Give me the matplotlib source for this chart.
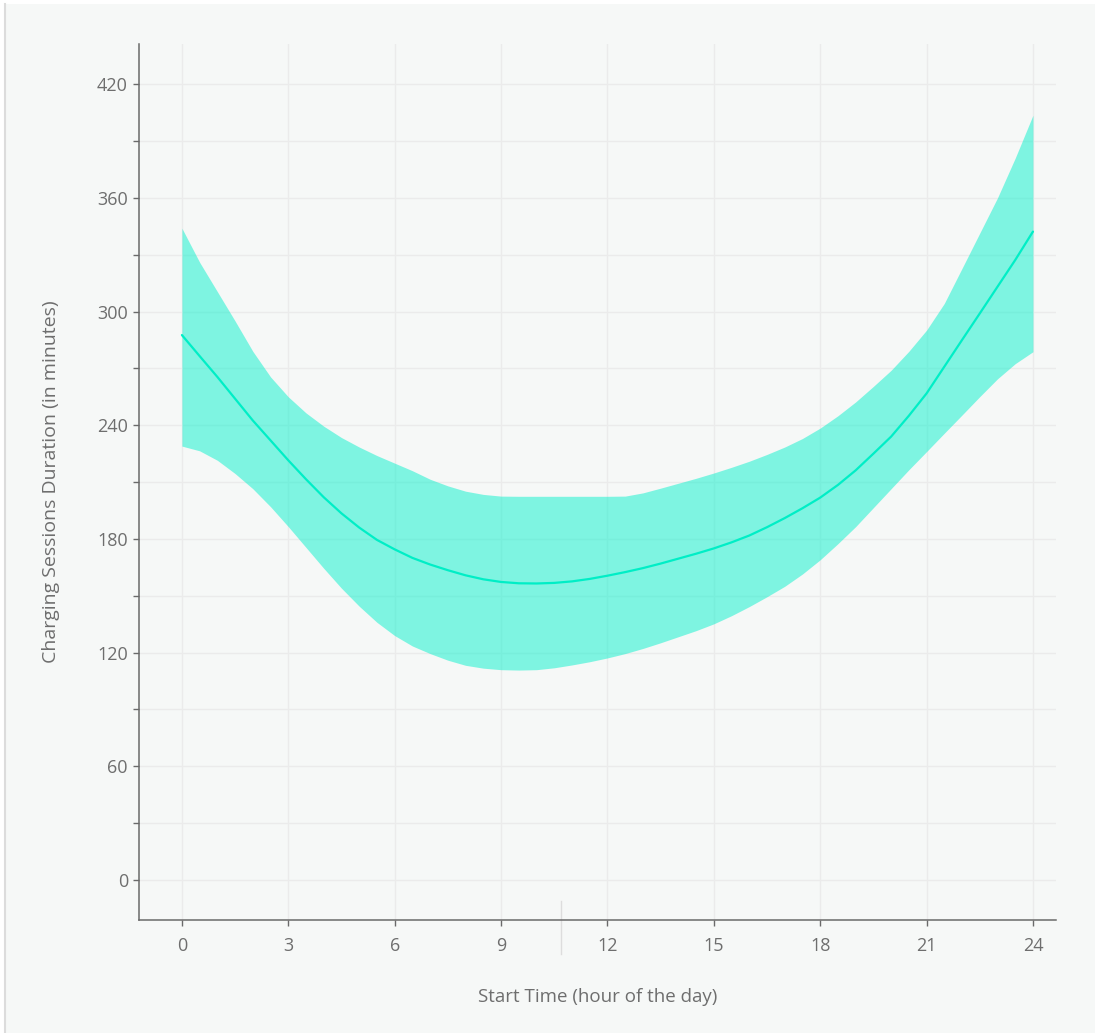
import matplotlib
matplotlib.use("Agg")
import matplotlib.pyplot as plt
from matplotlib.patches import Rectangle
from matplotlib.lines import Line2D
import numpy as np

hours = [0, 0.5, 1, 1.5, 2, 2.5, 3, 3.5, 4, 4.5, 5, 5.5, 6, 6.5, 7, 7.5, 8,
         8.5, 9, 9.5, 10, 10.5, 11, 11.5, 12, 12.5, 13, 13.5, 14, 14.5, 15, 15.5, 16,
         16.5, 17, 17.5, 18, 18.5, 19, 19.5, 20, 20.5, 21, 21.5, 22, 22.5, 23, 23.5, 24]
mean_dur = [287.6, 276.5, 265.5, 254, 242.5, 232, 221.5, 211.5, 202, 193.5, 186, 179.5,
            174.5, 170, 166.5, 163.5, 160.8, 158.7, 157.3, 156.6, 156.5, 156.8, 157.6,
            158.9, 160.6, 162.5, 164.6, 167, 169.6, 172.2, 175, 178.2, 181.8, 186.2, 191,
            196.2, 201.8, 208.5, 216.2, 225, 234, 245, 256.8, 270.9, 285, 299, 313.1,
            327.2, 342.2]
upper_dur = [344, 326, 310.5, 295, 279, 265.5, 255, 246.5, 239.5, 233.5, 228.5, 224,
             220, 216, 211.5, 208, 205.2, 203.5, 202.6, 202.5, 202.5, 202.5, 202.5,
             202.5, 202.5, 202.6, 204.3, 206.8, 209.4, 212, 214.8, 217.8, 221, 224.6,
             228.5, 233, 238.5, 245, 252.3, 260.5, 269, 279, 290.2, 304.3, 322.8, 341.4,
             360, 381, 403.6]
lower_dur = [229, 226.5, 221.5, 214.5, 206.5, 197, 186.5, 175.5, 164.5, 154, 144.5, 136,
             129, 123.5, 119.5, 116, 113.3, 111.8, 111, 110.8, 111, 112, 113.5, 115.2,
             117.2, 119.5, 122.2, 125.2, 128.4, 131.6, 135.2, 139.5, 144.3, 149.5, 155,
             161.5, 169, 177.5, 186.5, 196.5, 206.5, 216.5, 226.1, 235.8, 245.4, 255.1,
             264.5, 272.5, 278.8]
x_ticks = [0, 3, 6, 9, 12, 15, 18, 21, 24]
y_ticks = [0, 60, 120, 180, 240, 300, 360, 420]

plt.rcParams['font.family'] = ['Open Sans', 'DejaVu Sans']

W, H = 1099, 1033
fig = plt.figure(figsize=(W / 100, H / 100), dpi=100, facecolor='white')
bg = '#f6f8f7'
fig.patches.append(Rectangle((5 / W, 0), (1095 - 5) / W, (H - 4) / H,
                             transform=fig.transFigure, facecolor=bg,
                             edgecolor='none', zorder=-10))
fig.lines.append(Line2D([4.5 / W, 4.5 / W], [0, (H - 4) / H],
                        transform=fig.transFigure, color='#dcdcdc', lw=1.5, zorder=-9))

ax = fig.add_axes([139 / W, 1 - 920 / H, (1056 - 139) / W, (920 - 44) / H])
ax.set_facecolor(bg)
ax.set_xlim(-1.21, 24.65)
ax.set_ylim(-21.1, 441.2)

grid_c = '#ebebeb'
ax.set_xticks(x_ticks)
ax.set_yticks(y_ticks)
ax.set_yticks(np.arange(30, 421, 60), minor=True)
ax.grid(True, which='major', color=grid_c, lw=1.0)
ax.grid(True, which='minor', axis='y', color=grid_c, lw=1.0)
ax.set_axisbelow(True)

ax.fill_between(hours, lower_dur, upper_dur, color='#07f1cc', alpha=0.5, lw=0, zorder=2)
ax.plot(hours, mean_dur, color='#00eec6', lw=1.6, zorder=3, solid_capstyle='round')

for s in ['top', 'right']:
    ax.spines[s].set_visible(False)
for s in ['left', 'bottom']:
    ax.spines[s].set_color('#6a6a6a')
    ax.spines[s].set_linewidth(1.1)

txt_c = '#6e6e6e'
ax.tick_params(axis='both', which='both', direction='out', color='#6a6a6a',
               length=4, width=1.0, labelcolor=txt_c, labelsize=13)
ax.tick_params(axis='y', which='major', pad=4)
ax.tick_params(axis='x', which='major', pad=8)
ax.tick_params(axis='y', which='minor', length=4)

ax.set_xlabel('Start Time (hour of the day)', color=txt_c, fontsize=13.5, labelpad=24)
ax.set_ylabel('Charging Sessions Duration (in minutes)', color=txt_c, fontsize=14, labelpad=27)

# faint spike line below the axis
ax.plot([10.69, 10.69], [-11.0, -38.8], color='#dddddd', lw=1.0, clip_on=False, zorder=1)

fig.savefig('out.png', dpi=100, facecolor='white')
